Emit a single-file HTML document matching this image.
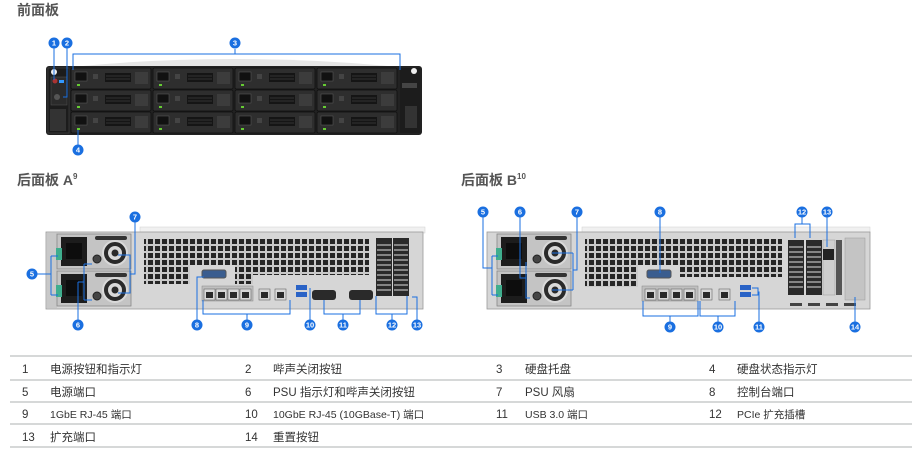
<!DOCTYPE html>
<html><head><meta charset="utf-8"><style>
html,body{margin:0;padding:0;background:#fff;}
svg{display:block;font-family:"Liberation Sans","Noto Sans CJK SC",sans-serif;}
</style></head><body>
<svg width="923" height="466" viewBox="0 0 923 466" xmlns="http://www.w3.org/2000/svg">
<defs>
<pattern id="grill" x="0" y="0" width="7" height="7" patternUnits="userSpaceOnUse">
<rect width="7" height="7" fill="#c9c9c9"/><rect x="1" y="1" width="5" height="5" fill="#262626"/>
</pattern>
<g id="bay">
<rect x="0" y="0" width="80" height="21" rx="1.5" fill="#2e2e2e" stroke="#111" stroke-width="0.8"/>
<rect x="4" y="4" width="12" height="9" fill="#111" stroke="#555" stroke-width="0.6"/>
<rect x="22" y="6" width="5" height="5" fill="#444"/>
<rect x="34" y="5" width="26" height="9" fill="#151515"/>
<line x1="35" y1="8" x2="59" y2="8" stroke="#555" stroke-width="0.6"/>
<line x1="35" y1="11" x2="59" y2="11" stroke="#555" stroke-width="0.6"/>
<rect x="64" y="4" width="13" height="12" fill="#3c3c3c"/>
<rect x="6" y="16" width="3" height="2" fill="#6c3"/>
</g>
<g id="psu">
<rect x="0" y="0" width="74" height="35" fill="#c4c4c4" stroke="#888" stroke-width="0.8"/>
<rect x="4" y="3" width="26" height="29" fill="#1c1c1c"/>
<rect x="9" y="9" width="16" height="16" fill="#0d0d0d"/>
<circle cx="40" cy="25" r="4" fill="#444" stroke="#222"/>
<circle cx="58" cy="19" r="13" fill="#d9d9d9"/>
<circle cx="58" cy="19" r="9" fill="none" stroke="#2a2a2a" stroke-width="4"/>
<circle cx="58" cy="19" r="3.5" fill="#2a2a2a"/>
<rect x="38" y="2" width="32" height="4" rx="2" fill="#333"/>
</g>
<g id="lan"><rect x="0" y="0" width="11" height="11" fill="#d8d8d8" stroke="#666" stroke-width="0.6"/><rect x="2" y="3" width="7" height="6" fill="#2a2a2a"/></g>
<g id="badge"><circle r="5.5" fill="#1a6fe0"/></g>
</defs>

<text x="17" y="15" font-size="14" font-weight="bold" fill="#555">前面板</text>
<text x="17" y="185" font-size="14" font-weight="bold" fill="#555">后面板 A<tspan font-size="8" dy="-6">9</tspan></text>
<text x="461" y="185" font-size="14" font-weight="bold" fill="#555">后面板 B<tspan font-size="8" dy="-6">10</tspan></text>

<!-- FRONT -->
<path d="M72 67 Q150 59 235 59 Q320 59 398 67 Z" fill="#e6e6e6"/>
<rect x="46" y="66" width="376" height="69" rx="3" fill="#222"/>
<rect x="48" y="68" width="21" height="65" fill="#1c1c1c" stroke="#444" stroke-width="0.6"/>
<circle cx="54" cy="72" r="3" fill="#eee"/>
<rect x="51" y="77" width="16" height="28" fill="#2b2b2b" stroke="#555" stroke-width="0.5"/>
<circle cx="55" cy="81" r="2.5" fill="#a33"/>
<rect x="59" y="80" width="5" height="3" fill="#39f"/>
<circle cx="57" cy="97" r="3" fill="#555"/>
<rect x="50" y="109" width="16" height="22" fill="#333"/>
<rect x="400" y="68" width="20" height="65" fill="#1c1c1c"/>
<circle cx="414" cy="71" r="3" fill="#eee"/>
<rect x="402" y="83" width="15" height="5" fill="#444"/>
<rect x="405" y="106" width="12" height="22" fill="#333"/>
<use href="#bay" x="71" y="68"/><use href="#bay" x="153" y="68"/><use href="#bay" x="235" y="68"/><use href="#bay" x="317" y="68"/>
<use href="#bay" x="71" y="90"/><use href="#bay" x="153" y="90"/><use href="#bay" x="235" y="90"/><use href="#bay" x="317" y="90"/>
<use href="#bay" x="71" y="112"/><use href="#bay" x="153" y="112"/><use href="#bay" x="235" y="112"/><use href="#bay" x="317" y="112"/>
<g stroke="#1a6fe0" stroke-width="1" fill="none">
<path d="M54 48 V80"/><path d="M67 48 V97 H63"/>
<path d="M73 70 V54 H400 V70"/><path d="M235 49 V54"/>
<path d="M78 130 V145"/>
</g>

<!-- REAR A -->
<rect x="140" y="227" width="285" height="6" fill="#f0f0f0" stroke="#d0d0d0" stroke-width="0.5"/>
<rect x="46" y="232" width="377" height="77" fill="#d6d6d6" stroke="#999" stroke-width="0.8"/>
<rect x="47" y="233" width="10" height="75" fill="#c8c8c8"/>
<use href="#psu" x="57" y="234"/><use href="#psu" x="57" y="271"/>
<rect x="56" y="248" width="6" height="12" fill="#3fae8e"/><rect x="56" y="285" width="6" height="12" fill="#3fae8e"/>
<rect x="144" y="239" width="225" height="45" fill="url(#grill)"/>
<rect x="190" y="265" width="45" height="20" fill="#d6d6d6"/>
<rect x="144" y="284" width="225" height="22" fill="#d6d6d6"/>
<rect x="253" y="275" width="116" height="10" fill="#d6d6d6"/>
<rect x="202" y="270" width="24" height="8" rx="2" fill="#3a5d8f" stroke="#555"/>
<rect x="202" y="286" width="51" height="15" fill="#bfbfbf" stroke="#888" stroke-width="0.5"/>
<use href="#lan" x="204" y="289"/><use href="#lan" x="216" y="289"/><use href="#lan" x="228" y="289"/><use href="#lan" x="240" y="289"/>
<use href="#lan" x="259" y="289"/><use href="#lan" x="275" y="289"/>
<rect x="296" y="285" width="11" height="5" fill="#2a63c6"/><rect x="296" y="292" width="11" height="5" fill="#2a63c6"/>
<rect x="312" y="290" width="24" height="10" rx="3" fill="#2a2a2a"/><rect x="349" y="290" width="24" height="10" rx="3" fill="#2a2a2a"/>
<rect x="376" y="238" width="16" height="58" fill="#2a2a2a"/><rect x="393" y="238" width="16" height="58" fill="#2a2a2a"/>
<g stroke="#bbb" stroke-width="1.2">
<path d="M377 245H391M377 250H391M377 255H391M377 260H391M377 265H391M377 270H391M377 275H391M377 280H391M377 285H391M377 290H391"/>
<path d="M394 245H408M394 250H408M394 255H408M394 260H408M394 265H408M394 270H408M394 275H408M394 280H408M394 285H408M394 290H408"/>
</g>
<g stroke="#1a6fe0" stroke-width="1" fill="none">
<path d="M37 274 H51 M51 256 V295 M51 256 H58 M51 295 H58"/>
<path d="M78 320 V282 M78 282 H84 M84 264 V300 M84 264 H92 M84 300 H92"/>
<path d="M135 222 V274 H130 M118 255 H130 V293 H118"/>
<path d="M197 320 V277 H204"/>
<path d="M203 300 V314 H290 V300 M247 314 V320"/>
<path d="M310 320 V288"/>
<path d="M324 300 V314 H360 V300 M343 314 V320"/>
<path d="M376 296 V314 H407 V296 M392 314 V320"/>
<path d="M417 320 V297 H412"/>
</g>

<!-- REAR B -->
<rect x="582" y="227" width="288" height="6" fill="#f0f0f0" stroke="#d0d0d0" stroke-width="0.5"/>
<rect x="487" y="232" width="383" height="77" fill="#d6d6d6" stroke="#999" stroke-width="0.8"/>
<use href="#psu" x="497" y="234"/><use href="#psu" x="497" y="271"/>
<rect x="496" y="248" width="6" height="12" fill="#3fae8e"/><rect x="496" y="285" width="6" height="12" fill="#3fae8e"/>
<rect x="585" y="239" width="197" height="48" fill="url(#grill)"/>
<rect x="638" y="265" width="42" height="22" fill="#d6d6d6"/>
<rect x="680" y="277" width="102" height="10" fill="#d6d6d6"/>
<rect x="585" y="287" width="200" height="20" fill="#d6d6d6"/>
<rect x="647" y="270" width="24" height="8" rx="2" fill="#3a5d8f" stroke="#555"/>
<rect x="642" y="286" width="56" height="15" fill="#bfbfbf" stroke="#888" stroke-width="0.5"/>
<use href="#lan" x="645" y="289"/><use href="#lan" x="658" y="289"/><use href="#lan" x="671" y="289"/><use href="#lan" x="684" y="289"/>
<use href="#lan" x="701" y="289"/><use href="#lan" x="719" y="289"/>
<rect x="740" y="285" width="11" height="5" fill="#2a63c6"/><rect x="740" y="292" width="11" height="5" fill="#2a63c6"/>
<g fill="#2a2a2a"><rect x="788" y="240" width="16" height="55"/><rect x="806" y="240" width="16" height="55"/></g>
<g stroke="#bbb" stroke-width="1.2">
<path d="M789 247H803M789 252H803M789 257H803M789 262H803M789 267H803M789 272H803M789 277H803M789 282H803M789 287H803"/>
<path d="M807 247H821M807 252H821M807 257H821M807 262H821M807 267H821M807 272H821M807 277H821M807 282H821M807 287H821"/>
</g>
<rect x="823" y="240" width="12" height="55" fill="#cfcfcf" stroke="#999" stroke-width="0.5"/>
<rect x="823" y="249" width="11" height="11" fill="#222"/>
<rect x="836" y="240" width="6" height="55" fill="#555"/>
<rect x="845" y="238" width="20" height="62" fill="#c4c4c4" stroke="#999" stroke-width="0.5"/>
<g fill="#444"><rect x="790" y="303" width="12" height="3"/><rect x="808" y="303" width="12" height="3"/><rect x="826" y="303" width="12" height="3"/><rect x="844" y="303" width="12" height="3"/></g>
<g stroke="#1a6fe0" stroke-width="1" fill="none">
<path d="M483 217 V268 H492 M492 256 V295 M492 256 H498 M492 295 H498"/>
<path d="M520 217 V278 H526 M526 262 V298 H530"/>
<path d="M577 217 V270 H573 M573 253 V290 M552 253 H573 M552 290 H573"/>
<path d="M660 217 V273"/>
<path d="M643 301 V316 H698 V301 M670 316 V322"/>
<path d="M700 301 V316 H735 V301 M718 316 V322"/>
<path d="M752 288 H758 V295 H752 M758 292 H759 V322"/>
<path d="M795 238 V224 H810 V238 M802 217 V224"/>
<path d="M827 217 V247"/>
<path d="M855 322 V297"/>
</g>

<g font-size="7.5" font-weight="bold" fill="#fff" text-anchor="middle">
<use href="#badge" x="54" y="43"/><text x="54" y="45.7">1</text>
<use href="#badge" x="67" y="43"/><text x="67" y="45.7">2</text>
<use href="#badge" x="235" y="43"/><text x="235" y="45.7">3</text>
<use href="#badge" x="78" y="150"/><text x="78" y="152.7">4</text>
<use href="#badge" x="32" y="274"/><text x="32" y="276.7">5</text>
<use href="#badge" x="78" y="325"/><text x="78" y="327.7">6</text>
<use href="#badge" x="135" y="217"/><text x="135" y="219.7">7</text>
<use href="#badge" x="197" y="325"/><text x="197" y="327.7">8</text>
<use href="#badge" x="247" y="325"/><text x="247" y="327.7">9</text>
<use href="#badge" x="310" y="325"/><text x="310" y="327.7">10</text>
<use href="#badge" x="343" y="325"/><text x="343" y="327.7">11</text>
<use href="#badge" x="392" y="325"/><text x="392" y="327.7">12</text>
<use href="#badge" x="417" y="325"/><text x="417" y="327.7">13</text>
<use href="#badge" x="483" y="212"/><text x="483" y="214.7">5</text>
<use href="#badge" x="520" y="212"/><text x="520" y="214.7">6</text>
<use href="#badge" x="577" y="212"/><text x="577" y="214.7">7</text>
<use href="#badge" x="660" y="212"/><text x="660" y="214.7">8</text>
<use href="#badge" x="802" y="212"/><text x="802" y="214.7">12</text>
<use href="#badge" x="827" y="212"/><text x="827" y="214.7">13</text>
<use href="#badge" x="670" y="327"/><text x="670" y="329.7">9</text>
<use href="#badge" x="718" y="327"/><text x="718" y="329.7">10</text>
<use href="#badge" x="759" y="327"/><text x="759" y="329.7">11</text>
<use href="#badge" x="855" y="327"/><text x="855" y="329.7">14</text>
</g>

<g stroke="#c8cccc" stroke-width="1.5">
<line x1="10" y1="356" x2="912" y2="356"/><line x1="10" y1="380" x2="912" y2="380"/>
<line x1="10" y1="402" x2="912" y2="402"/><line x1="10" y1="424" x2="912" y2="424"/>
<line x1="10" y1="447" x2="912" y2="447"/>
</g>
<g font-size="11.5" fill="#333">
<text x="22" y="373">1</text><text x="50" y="373">电源按钮和指示灯</text>
<text x="245" y="373">2</text><text x="273" y="373">哔声关闭按钮</text>
<text x="496" y="373">3</text><text x="525" y="373">硬盘托盘</text>
<text x="709" y="373">4</text><text x="737" y="373">硬盘状态指示灯</text>
<text x="22" y="396">5</text><text x="50" y="396">电源端口</text>
<text x="245" y="396">6</text><text x="273" y="396">PSU 指示灯和哔声关闭按钮</text>
<text x="496" y="396">7</text><text x="525" y="396">PSU 风扇</text>
<text x="709" y="396">8</text><text x="737" y="396">控制台端口</text>
<text x="22" y="418">9</text><text x="50" y="418" font-size="10.5">1GbE RJ-45 端口</text>
<text x="245" y="418">10</text><text x="273" y="418" font-size="10.5">10GbE RJ-45 (10GBase-T) 端口</text>
<text x="496" y="418">11</text><text x="525" y="418" font-size="10.5">USB 3.0 端口</text>
<text x="709" y="418">12</text><text x="737" y="418" font-size="10.5">PCIe 扩充插槽</text>
<text x="22" y="441">13</text><text x="50" y="441">扩充端口</text>
<text x="245" y="441">14</text><text x="273" y="441">重置按钮</text>
</g>
</svg>
</body></html>
